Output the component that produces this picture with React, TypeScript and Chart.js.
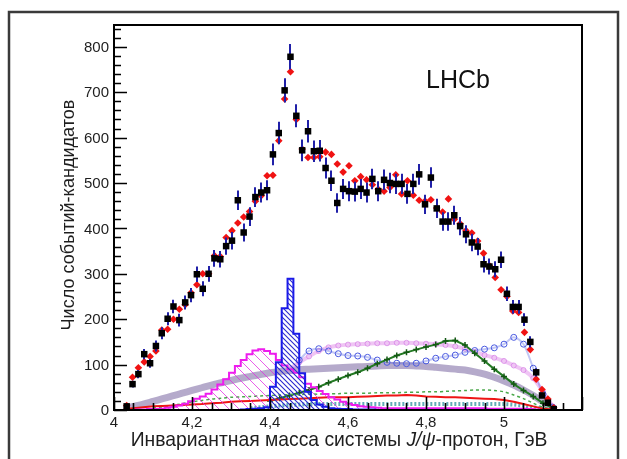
import { useEffect, useRef } from 'react';
import { Chart, registerables } from 'chart.js';

Chart.register(...registerables);

// ---- data: J/psi p invariant mass, 15 MeV bins ----
const massBins = [
  4.0325, 4.0475, 4.0625, 4.0775, 4.0925, 4.1075, 4.1225, 4.1375, 4.1525, 4.1675,
  4.1825, 4.1975, 4.2125, 4.2275, 4.2425, 4.2575, 4.2725, 4.2875, 4.3025, 4.3175,
  4.3325, 4.3475, 4.3625, 4.3775, 4.3925, 4.4075, 4.4225, 4.4375, 4.4525, 4.4675,
  4.4825, 4.4975, 4.5125, 4.5275, 4.5425, 4.5575, 4.5725, 4.5875, 4.6025, 4.6175,
  4.6325, 4.6475, 4.6625, 4.6775, 4.6925, 4.7075, 4.7225, 4.7375, 4.7525, 4.7675,
  4.7825, 4.7975, 4.8125, 4.8275, 4.8425, 4.8575, 4.8725, 4.8875, 4.9025, 4.9175,
  4.9325, 4.9475, 4.9625, 4.9775, 4.9925, 5.0075, 5.0225, 5.0375, 5.0525, 5.0675,
  5.0825, 5.0975, 5.1125, 5.1275,
];

const dataCounts = [
  8, 57, 79, 123, 103, 141, 169, 201, 228, 198,
  237, 253, 299, 267, 300, 334, 332, 361, 373, 462,
  391, 426, 469, 479, 484, 563, 610, 704, 778, 648,
  572, 614, 570, 571, 533, 505, 456, 487, 482, 481,
  487, 479, 509, 482, 507, 500, 498, 498, 476, 498,
  519, 453, 512, 444, 415, 415, 429, 405, 387, 369,
  360, 321, 316, 310, 331, 256, 227, 227, 199, 150,
  83, 32, 16, 2,
];

const fitValues = [
  10, 72, 93, 106, 118, 130, 176, 178, 200, 222,
  232, 258, 276, 300, 300, 340, 338, 380, 395, 412,
  425, 437, 460, 472, 516, 517, 593, 685, 745, 640,
  575, 556, 556, 558, 568, 563, 542, 524, 538, 505,
  514, 507, 496, 486, 482, 490, 518, 476, 505, 473,
  462, 460, 463, 445, 436, 465, 420, 410, 395, 390,
  372, 345, 318, 292, 265, 250, 218, 215, 171, 133,
  68, 45, 24, 5,
];

const pc4380Hist = [
  0, 0, 1, 1, 2, 2, 3, 5, 7, 10,
  14, 19, 25, 30, 36, 45, 56, 68, 82, 97,
  110, 123, 131, 134, 130, 124, 110, 98, 90, 82,
  72, 58, 50, 42, 35, 28, 23, 18, 14, 11,
  8, 7, 6, 5, 4, 4, 4, 4, 4, 4,
  4, 4, 4, 4, 4, 4, 4, 4, 4, 4,
  4, 4, 3, 3, 3, 3, 3, 3, 3, 2,
  1, 0, 0, 0,
];

const pc4450Hist = [
  0, 0, 0, 0, 0, 0, 0, 0, 0, 0,
  0, 0, 0, 0, 0, 0, 0, 0, 0, 0,
  1, 2, 3, 4, 6, 51, 105, 224, 289, 168,
  81, 40, 22, 12, 7, 4, 3, 2, 2, 1,
  1, 1, 1, 0, 0, 0, 0, 0, 0, 0,
  0, 0, 0, 0, 0, 0, 0, 0, 0, 0,
  0, 0, 0, 0, 0, 0, 0, 0, 0, 0,
  0, 0, 0, 0,
];

// ---- smooth components on a 25 MeV grid ----
const compMass = [
  4.000, 4.025, 4.050, 4.075, 4.100, 4.125, 4.150, 4.175, 4.200, 4.225,
  4.250, 4.275, 4.300, 4.325, 4.350, 4.375, 4.400, 4.425, 4.450, 4.475,
  4.500, 4.525, 4.550, 4.575, 4.600, 4.625, 4.650, 4.675, 4.700, 4.725,
  4.750, 4.775, 4.800, 4.825, 4.850, 4.875, 4.900, 4.925, 4.950, 4.975,
  5.000, 5.025, 5.050, 5.075, 5.100, 5.125, 5.150,
];

const purpleBand = [
  null, 3, 8, 13, 19, 25, 31, 37, 43, 49,
  55, 60, 65, 70, 74, 78, 82, 85, 87, 89,
  90, 91, 92, 93, 94, 95, 96, 97, 98, 98,
  98, 97, 96, 94, 92, 90, 88, 84, 79, 72,
  64, 55, 44, 32, 18, 5, null,
];

const plumBand = [
  null, null, null, null, null, null, null, null, null, null,
  null, null, null, null, null, null, null, null, 90, 105,
  118, 130, 138, 142, 144, 145, 146, 147, 147, 148,
  148, 147, 146, 145, 143, 140, 135, 128, 121, 115,
  108, 98, 88, 70, 40, 8, null,
];

const blueCircles = [
  null, null, null, null, null, null, null, null, null, null,
  null, null, null, null, null, null, null, null, null, 110,
  130, 135, 130, 124, 120, 119, 116, 110, 105, 103,
  102, 103, 108, 114, 118, 121, 127, 131, 134, 137,
  145, 160, 145, 92, 35, 6, null,
];

const darkGreen = [
  null, null, null, null, null, null, null, null, null, null,
  null, null, null, null, null, null, 20, 26, 32, 38,
  44, 51, 60, 68, 76, 83, 92, 102, 111, 120,
  127, 133, 139, 144, 152, 153, 143, 125, 108, 90,
  74, 57, 43, 30, 15, 4, null,
];

const lightGreen = [
  null, null, null, null, 4, 7, 10, 14, 18, 21,
  24, 26, 28, 29, 30, 31, 32, 33, 34, 34,
  35, 35, 36, 36, 37, 37, 37, 38, 38, 38,
  39, 39, 40, 40, 41, 42, 43, 44, 44, 43,
  40, 33, 25, 15, 6, 1, null,
];

const redLine = [
  null, 2, 4, 6, 8, 9, 10, 11, 12, 13,
  15, 16, 18, 19, 20, 21, 22, 23, 24, 25,
  26, 27, 28, 28, 28, 29, 30, 31, 32, 32,
  33, 32, 30, 29, 28, 28, 27, 26, 25, 24,
  22, 18, 13, 8, 3, 1, null,
];

const tealBand = [
  null, null, null, null, null, null, null, null, null, null,
  null, null, null, null, 4, 6, 8, 10, 11, 12,
  13, 13, 13, 13, 13, 13, 13, 13, 13, 13,
  13, 13, 13, 13, 13, 13, 13, 13, 13, 13,
  13, 12, 10, 6, 2, null, null,
];

// ---- axis ticks ----
const xTickValues = [4, 4.2, 4.4, 4.6, 4.8, 5];
const xTickLabels = ['4', '4,2', '4,4', '4,6', '4,8', '5'];
const yTickValues = [0, 100, 200, 300, 400, 500, 600, 700, 800];
const yTickLabels = ['0', '100', '200', '300', '400', '500', '600', '700', '800'];

const yTitle = 'Число событий-кандидатов';
const xTitleParts = ['Инвариантная масса системы ', 'J/ψ', '-протон, ГэВ'];
const experimentLabel = 'LHCb';

const FONT = '"Liberation Sans", Arial, Helvetica, sans-serif';

function pts(xs: number[], ys: (number | null)[]) {
  return xs.map((x, i) => ({ x, y: ys[i] as any }));
}

function hatch(color: string, size: number, lw: number) {
  const c = document.createElement('canvas');
  c.width = size;
  c.height = size;
  const g = c.getContext('2d')!;
  g.strokeStyle = color;
  g.lineWidth = lw;
  g.beginPath();
  g.moveTo(-1, -1);
  g.lineTo(size + 1, size + 1);
  g.moveTo(-1, size - 1);
  g.lineTo(1, size + 1);
  g.moveTo(size - 1, -1);
  g.lineTo(size + 1, 1);
  g.stroke();
  return g.createPattern(c, 'repeat')!;
}

const errorBarPlugin = {
  id: 'errorBars',
  beforeDatasetDraw(chart: any, args: any) {
    if (args.index !== 0) return;
    const { ctx, scales } = chart;
    const xs = scales.x;
    const ys = scales.y;
    ctx.save();
    ctx.strokeStyle = '#2020a8';
    ctx.lineWidth = 2;
    ctx.beginPath();
    massBins.forEach((m, i) => {
      const v = dataCounts[i];
      const e = Math.sqrt(v);
      const px = Math.round(xs.getPixelForValue(m)) + 0.0;
      ctx.moveTo(px, ys.getPixelForValue(Math.max(0, v - e)));
      ctx.lineTo(px, ys.getPixelForValue(v + e));
    });
    ctx.stroke();
    ctx.restore();
  },
};

const framePlugin = {
  id: 'frameAndLabels',
  afterDraw(chart: any) {
    const { ctx, chartArea: a, scales } = chart;
    const xs = scales.x;
    const ys = scales.y;
    ctx.save();

    // outer figure border
    ctx.strokeStyle = '#3a3a3a';
    ctx.lineWidth = 2.5;
    ctx.beginPath();
    ctx.moveTo(9, 470);
    ctx.lineTo(9, 12);
    ctx.lineTo(618, 12);
    ctx.lineTo(618, 470);
    ctx.stroke();

    // plot frame
    ctx.strokeStyle = '#000';
    ctx.lineWidth = 2;
    ctx.strokeRect(a.left, a.top, a.right - a.left, a.bottom - a.top);

    // inward ticks
    ctx.lineWidth = 1.6;
    ctx.beginPath();
    for (let v = 0; v <= 840; v += 20) {
      const py = Math.round(ys.getPixelForValue(v)) + 0.5;
      const len = v % 100 === 0 ? 13 : 7;
      ctx.moveTo(a.left, py);
      ctx.lineTo(a.left + len, py);
    }
    for (let k = 0; k <= 24; k++) {
      const m = 4 + k * 0.05;
      const px = Math.round(xs.getPixelForValue(m)) + 0.5;
      const len = k % 4 === 0 ? 13 : 7;
      ctx.moveTo(px, a.bottom);
      ctx.lineTo(px, a.bottom - len);
    }
    ctx.stroke();

    // tick labels
    ctx.fillStyle = '#1e1e1e';
    ctx.font = `15px ${FONT}`;
    ctx.textAlign = 'right';
    ctx.textBaseline = 'middle';
    yTickValues.forEach((v, i) => {
      ctx.fillText(yTickLabels[i], a.left - 5, ys.getPixelForValue(v) + 1);
    });
    ctx.textAlign = 'center';
    xTickValues.forEach((v, i) => {
      ctx.fillText(xTickLabels[i], xs.getPixelForValue(v), a.bottom + 13);
    });

    // y title (fit to measured width of the reference)
    ctx.font = `100px ${FONT}`;
    const yw = ctx.measureText(yTitle).width;
    const ySize = (100 * 231) / yw;
    ctx.font = `${ySize}px ${FONT}`;
    ctx.save();
    ctx.translate(69, 215);
    ctx.rotate(-Math.PI / 2);
    ctx.textAlign = 'center';
    ctx.textBaseline = 'middle';
    ctx.fillText(yTitle, 0, 0);
    ctx.restore();

    // x title with italic J/psi
    const fonts = [`100px ${FONT}`, `italic 100px ${FONT}`, `100px ${FONT}`];
    let tot = 0;
    xTitleParts.forEach((p, i) => {
      ctx.font = fonts[i];
      tot += ctx.measureText(p).width;
    });
    const xSize = (100 * 417) / tot;
    const sizedFonts = [`${xSize}px ${FONT}`, `italic ${xSize}px ${FONT}`, `${xSize}px ${FONT}`];
    let widths: number[] = [];
    xTitleParts.forEach((p, i) => {
      ctx.font = sizedFonts[i];
      widths.push(ctx.measureText(p).width);
    });
    let cx = 339 - widths.reduce((s, w) => s + w, 0) / 2;
    ctx.textAlign = 'left';
    ctx.textBaseline = 'middle';
    xTitleParts.forEach((p, i) => {
      ctx.font = sizedFonts[i];
      ctx.fillText(p, cx, 441);
      cx += widths[i];
    });

    // experiment label
    ctx.font = `25px ${FONT}`;
    ctx.textAlign = 'left';
    ctx.textBaseline = 'alphabetic';
    ctx.fillStyle = '#111';
    ctx.fillText(experimentLabel, 426, 88);

    ctx.restore();
  },
};

export default function App() {
  const ref = useRef<HTMLCanvasElement>(null);

  useEffect(() => {
    const canvas = ref.current!;
    const ctx = canvas.getContext('2d')!;
    const blueHatch = hatch('#2b2bd0', 5, 1.1);
    const magHatch = hatch('rgba(225,40,225,0.75)', 10, 1);

    const chart = new Chart(ctx, {
      type: 'line',
      data: {
        datasets: [
          {
            label: 'data',
            data: pts(massBins, dataCounts),
            showLine: false,
            pointStyle: 'rect',
            pointRadius: 4.6,
            pointBackgroundColor: '#000',
            pointBorderColor: '#000',
            pointBorderWidth: 0,
          },
          {
            label: 'fit',
            data: pts(massBins, fitValues),
            showLine: false,
            pointStyle: 'rectRot',
            pointRadius: 3.8,
            pointBackgroundColor: '#f01212',
            pointBorderColor: '#f01212',
            pointBorderWidth: 0,
          },
          {
            label: 'Pc(4450)',
            data: pts(massBins, pc4450Hist),
            stepped: 'middle',
            borderColor: '#1a1ae8',
            borderWidth: 2,
            backgroundColor: blueHatch,
            fill: 'origin',
            pointRadius: 0,
          },
          {
            label: 'Pc(4380)',
            data: pts(massBins, pc4380Hist),
            stepped: 'middle',
            borderColor: '#ee1cee',
            borderWidth: 2,
            backgroundColor: magHatch,
            fill: 'origin',
            pointRadius: 0,
          },
          {
            label: 'red',
            data: pts(compMass, redLine),
            borderColor: '#ee1515',
            borderWidth: 2,
            pointRadius: 0,
            fill: false,
          },
          {
            label: 'teal',
            data: pts(compMass, tealBand),
            borderColor: 'rgba(60,150,165,0.8)',
            borderWidth: 4,
            borderDash: [2, 2],
            pointRadius: 0,
            fill: false,
          },
          {
            label: 'lightGreen',
            data: pts(compMass, lightGreen),
            borderColor: '#4aa84a',
            borderWidth: 1.5,
            borderDash: [3, 3],
            pointRadius: 0,
            fill: false,
            tension: 0.3,
          },
          {
            label: 'darkGreen',
            data: pts(compMass, darkGreen),
            borderColor: '#237a23',
            borderWidth: 2,
            pointStyle: 'cross',
            pointRadius: 3,
            pointBorderColor: '#145814',
            pointBorderWidth: 1.5,
            fill: false,
          },
          {
            label: 'blueCircles',
            data: pts(compMass, blueCircles),
            borderColor: 'rgba(80,95,225,0.35)',
            borderWidth: 2,
            pointStyle: 'circle',
            pointRadius: 3,
            pointBorderColor: '#4a5ae0',
            pointBackgroundColor: 'rgba(255,255,255,0)',
            pointBorderWidth: 1,
            fill: false,
            tension: 0.3,
          },
          {
            label: 'plum',
            data: pts(compMass, plumBand),
            borderColor: 'rgba(225,150,235,0.55)',
            borderWidth: 4,
            pointStyle: 'circle',
            pointRadius: 2.5,
            pointBorderColor: 'rgba(215,130,230,0.8)',
            pointBackgroundColor: 'rgba(255,255,255,0)',
            pointBorderWidth: 1,
            fill: false,
            tension: 0.3,
          },
          {
            label: 'purple',
            data: pts(compMass, purpleBand),
            borderColor: 'rgba(120,100,160,0.55)',
            borderWidth: 7,
            pointRadius: 0,
            fill: false,
            tension: 0.3,
          },
        ],
      },
      options: {
        responsive: false,
        animation: false,
        devicePixelRatio: 1,
        layout: { padding: { left: 114, top: 25, right: 45, bottom: 49 } },
        plugins: { legend: { display: false }, tooltip: { enabled: false } },
        scales: {
          x: { type: 'linear', min: 4, max: 5.2, display: false },
          y: { type: 'linear', min: 0, max: 848, display: false },
        },
      },
      plugins: [errorBarPlugin, framePlugin],
    } as any);

    return () => chart.destroy();
  }, []);

  return (
    <div style={{ position: 'fixed', left: 0, top: 0, width: 627, height: 459, background: '#fff' }}>
      <canvas ref={ref} width={627} height={459} style={{ display: 'block', width: 627, height: 459 }} />
    </div>
  );
}
